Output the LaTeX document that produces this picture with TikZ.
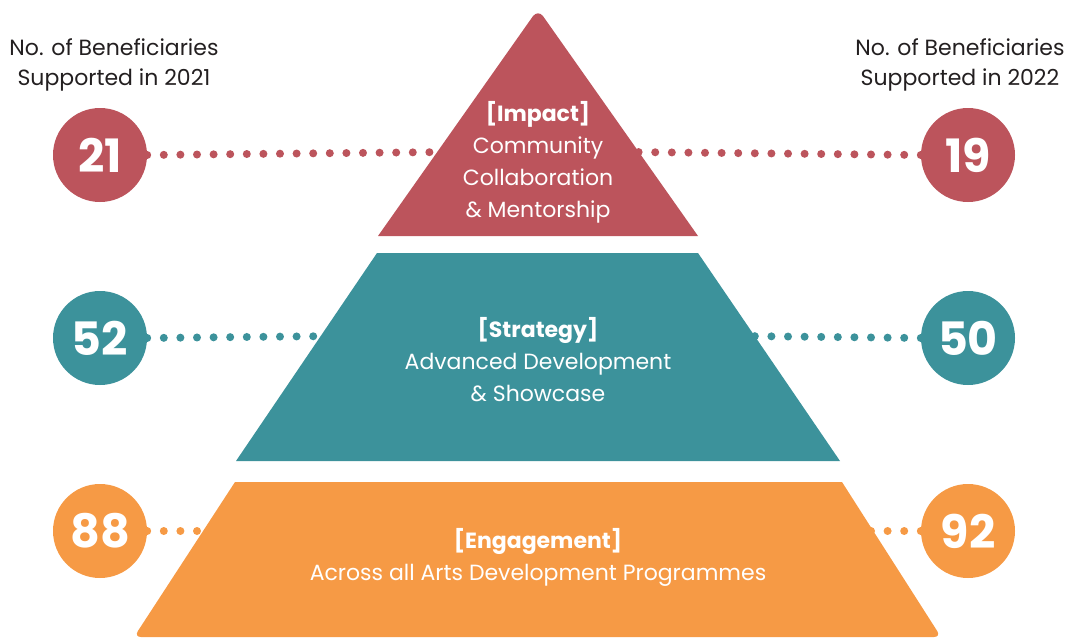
\documentclass[tikz,border=0pt]{standalone}
\usepackage{fontspec}
\setmainfont{Poppins}
\definecolor{impact}{HTML}{BC545C}
\definecolor{strategy}{HTML}{3C929B}
\definecolor{engage}{HTML}{F69A45}
\definecolor{ink}{HTML}{231F20}
\tikzset{
  num/.style={circle,fill=#1,minimum size=94pt,inner sep=0pt,text=white,font=\fontsize{46}{46}\selectfont\bfseries},
  dots/.style={draw=#1,line width=8pt,line cap=round,dash pattern=on 0pt off 16.6pt},
  head/.style={align=center,text=ink,font=\fontsize{22}{30}\selectfont},
  tier/.style={align=center,text=white,font=\fontsize{22}{32}\selectfont}
}
\begin{document}
\begin{tikzpicture}[x=1pt,y=-1pt]
    \useasboundingbox (0,0) rectangle (1070,637);
    % year headers
    \node[head] (y21) at (114,65) {No. of Beneficiaries\\Supported in 2021};
    \node[head] (y22) at (960,65) {No. of Beneficiaries\\Supported in 2022};
    % number circles
    \node[num=impact] (n21) at (100,155) {21};
    \node[num=impact] (n19) at (968,155) {19};
    \node[num=strategy] (n52) at (100,338) {52};
    \node[num=strategy] (n50) at (968,338) {50};
    \node[num=engage] (n88) at (100,531) {88};
    \node[num=engage] (n92) at (968,531) {92};
    % dotted leaders, hidden behind the pyramid
    \coordinate (iL) at (450,152); \coordinate (iR) at (630,152);
    \coordinate (sL) at (340,336); \coordinate (sR) at (740,336);
    \coordinate (eL) at (240,531); \coordinate (eR) at (830,531);
    \draw[dots=impact] (n21.east) -- (iL);
    \draw[dots=impact] (n19.west) -- (iR);
    \draw[dots=strategy] (n52.east) -- (sL);
    \draw[dots=strategy] (n50.west) -- (sR);
    \draw[dots=engage] (n88.east) -- (eL);
    \draw[dots=engage] (n92.west) -- (eR);
    % pyramid tiers
    \fill[impact] (378,236) [rounded corners=9pt]-- (538,9) [sharp corners]-- (698,236) -- cycle;
    \fill[strategy] (377,253) -- (698,253) -- (840,461) -- (236,461) -- cycle;
    \fill[engage] (235,482) -- (842,482) [rounded corners=7pt]-- (941,637) -- (134,637) [sharp corners]-- cycle;
    \node[tier] (impact) at (538,162) {\textbf{[Impact]}\\Community\\Collaboration\\\& Mentorship};
    \node[tier] (strategy) at (538,360) {\textbf{[Strategy]}\\Advanced Development\\\& Showcase};
    \node[tier] (engage) at (538,557) {\textbf{[Engagement]}\\Across all Arts Development Programmes};
\end{tikzpicture}
\end{document}
